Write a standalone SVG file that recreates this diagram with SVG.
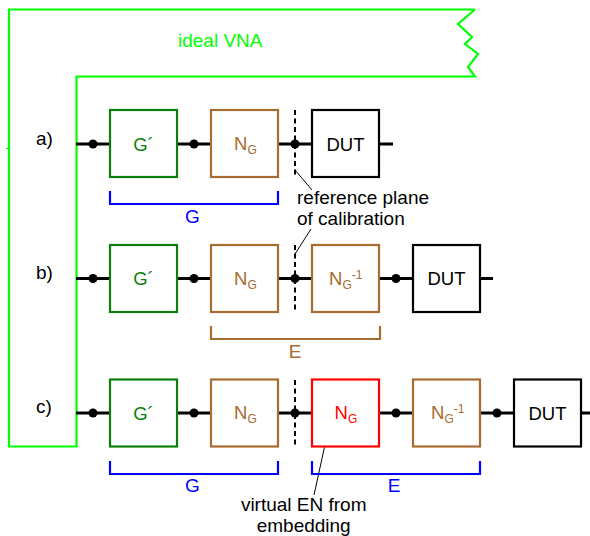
<svg xmlns="http://www.w3.org/2000/svg" width="590" height="536" viewBox="0 0 590 536">
<style>
text{font-family:"Liberation Sans",Arial,sans-serif;font-size:19px;fill:#000}
.m{text-anchor:middle}
.box{fill:#fff;stroke-width:2.200}
.gr{stroke:#0a800a}.br{stroke:#a86b30}.bk{stroke:#000}.rd{stroke:#ff0000}
.tg{fill:#0a800a;font-size:18.500px}.tb{fill:#a86b30;font-size:18.500px}.tk{fill:#000;font-size:18.500px}.tr{fill:#ff0000;font-size:18.500px}
.sub{font-size:12px}
.wire{stroke:#000;stroke-width:3;fill:none}
.dash{stroke:#000;stroke-width:2;fill:none;stroke-dasharray:5 3.5}
.lead{stroke:#000;stroke-width:1;fill:none}
.vna{stroke:#00ff00;stroke-width:2.200;fill:none}
.brace{stroke-width:2.200;fill:none}
</style>
<g id="connectors">
<path class="vna" d="M475 9.5H9V446.5H76.5V76.5H475L468 67L478 54L465 44L472 37L458 24L475 9.5"/>
<path d="M6 148.5H10" stroke="#00ff00" stroke-width="1" fill="none"/>
<path class="wire" d="M76 144H110M177 144H211M278 144H312M379 144H393"/>
<path class="wire" d="M76 278.500H110M177 278.500H211M278 278.500H312M379 278.500H413M480 278.500H493"/>
<path class="wire" d="M76 413H110M177 413H211M278 413H312M379 413H413M480 413H514M581 413H590"/>
<g fill="#000">
<circle cx="93" cy="144" r="4.500"/><circle cx="194" cy="144" r="4.500"/><circle cx="295" cy="144" r="4.500"/>
<circle cx="93" cy="278.500" r="4.500"/><circle cx="194" cy="278.500" r="4.500"/><circle cx="295" cy="278.500" r="4.500"/><circle cx="396" cy="278.500" r="4.500"/>
<circle cx="93" cy="413" r="4.500"/><circle cx="194" cy="413" r="4.500"/><circle cx="295" cy="413" r="4.500"/><circle cx="396" cy="413" r="4.500"/><circle cx="497" cy="413" r="4.500"/>
</g>
<path class="dash" d="M295 110V178M295 245V313M295 380V447"/>
<path class="lead" d="M295 170L312 190M295 254L311 229M328 431L314 495"/>
<path class="brace" stroke="#0000ff" d="M110 191V204H278V191M110 461V474H278V461M312 461V474H480V461"/>
<path class="brace" stroke="#a86b30" d="M211 326V339H380V326"/>
</g>
<g id="a-g"><rect class="box gr" x="110" y="110" width="67" height="67"/><text class="tg m" x="143.500" y="150.500">G´</text></g>
<g id="a-n"><rect class="box br" x="211" y="110" width="67" height="67"/><text class="tb" x="234" y="149.500">N<tspan class="sub" dy="4">G</tspan></text></g>
<g id="a-dut"><rect class="box bk" x="312" y="110" width="67" height="67"/><text class="tk m" x="345.500" y="150.500">DUT</text></g>
<g id="b-g"><rect class="box gr" x="110" y="245" width="67" height="67"/><text class="tg m" x="143.500" y="285">G´</text></g>
<g id="b-n"><rect class="box br" x="211" y="245" width="67" height="67"/><text class="tb" x="234" y="284.500">N<tspan class="sub" dy="4">G</tspan></text></g>
<g id="b-ni"><rect class="box br" x="312" y="245" width="67" height="67"/><text class="tb" x="329" y="284.500">N<tspan class="sub" dy="4">G</tspan><tspan class="sub" dy="-10">-1</tspan></text></g>
<g id="b-dut"><rect class="box bk" x="413" y="245" width="67" height="67"/><text class="tk m" x="446.500" y="285">DUT</text></g>
<g id="c-g"><rect class="box gr" x="110" y="379.500" width="67" height="67"/><text class="tg m" x="143.500" y="420">G´</text></g>
<g id="c-n"><rect class="box br" x="211" y="379.500" width="67" height="67"/><text class="tb" x="234" y="419">N<tspan class="sub" dy="4">G</tspan></text></g>
<g id="c-nv"><rect class="box rd" x="312" y="379.500" width="67" height="67"/><text class="tr" x="334.500" y="419">N<tspan class="sub" dy="4">G</tspan></text></g>
<g id="c-ni"><rect class="box br" x="413" y="379.500" width="67" height="67"/><text class="tb" x="431" y="419">N<tspan class="sub" dy="4">G</tspan><tspan class="sub" dy="-10">-1</tspan></text></g>
<g id="c-dut"><rect class="box bk" x="514" y="379.500" width="67" height="67"/><text class="tk m" x="547.500" y="420">DUT</text></g>
<g id="labels">
<text x="178" y="46.500" style="fill:#00ff00">ideal VNA</text>
<text x="36" y="145">a)</text>
<text x="36" y="279">b)</text>
<text x="36" y="413">c)</text>
<text class="m" x="192.500" y="223" style="fill:#0000ff">G</text>
<text class="m" x="295" y="358" style="fill:#a86b30">E</text>
<text class="m" x="192.500" y="492" style="fill:#0000ff">G</text>
<text class="m" x="394" y="492" style="fill:#0000ff">E</text>
<text x="297" y="203.500">reference plane</text>
<text x="297" y="224.500">of calibration</text>
<text class="m" x="303.700" y="511">virtual EN from</text>
<text class="m" x="303.700" y="532">embedding</text>
</g>
</svg>
